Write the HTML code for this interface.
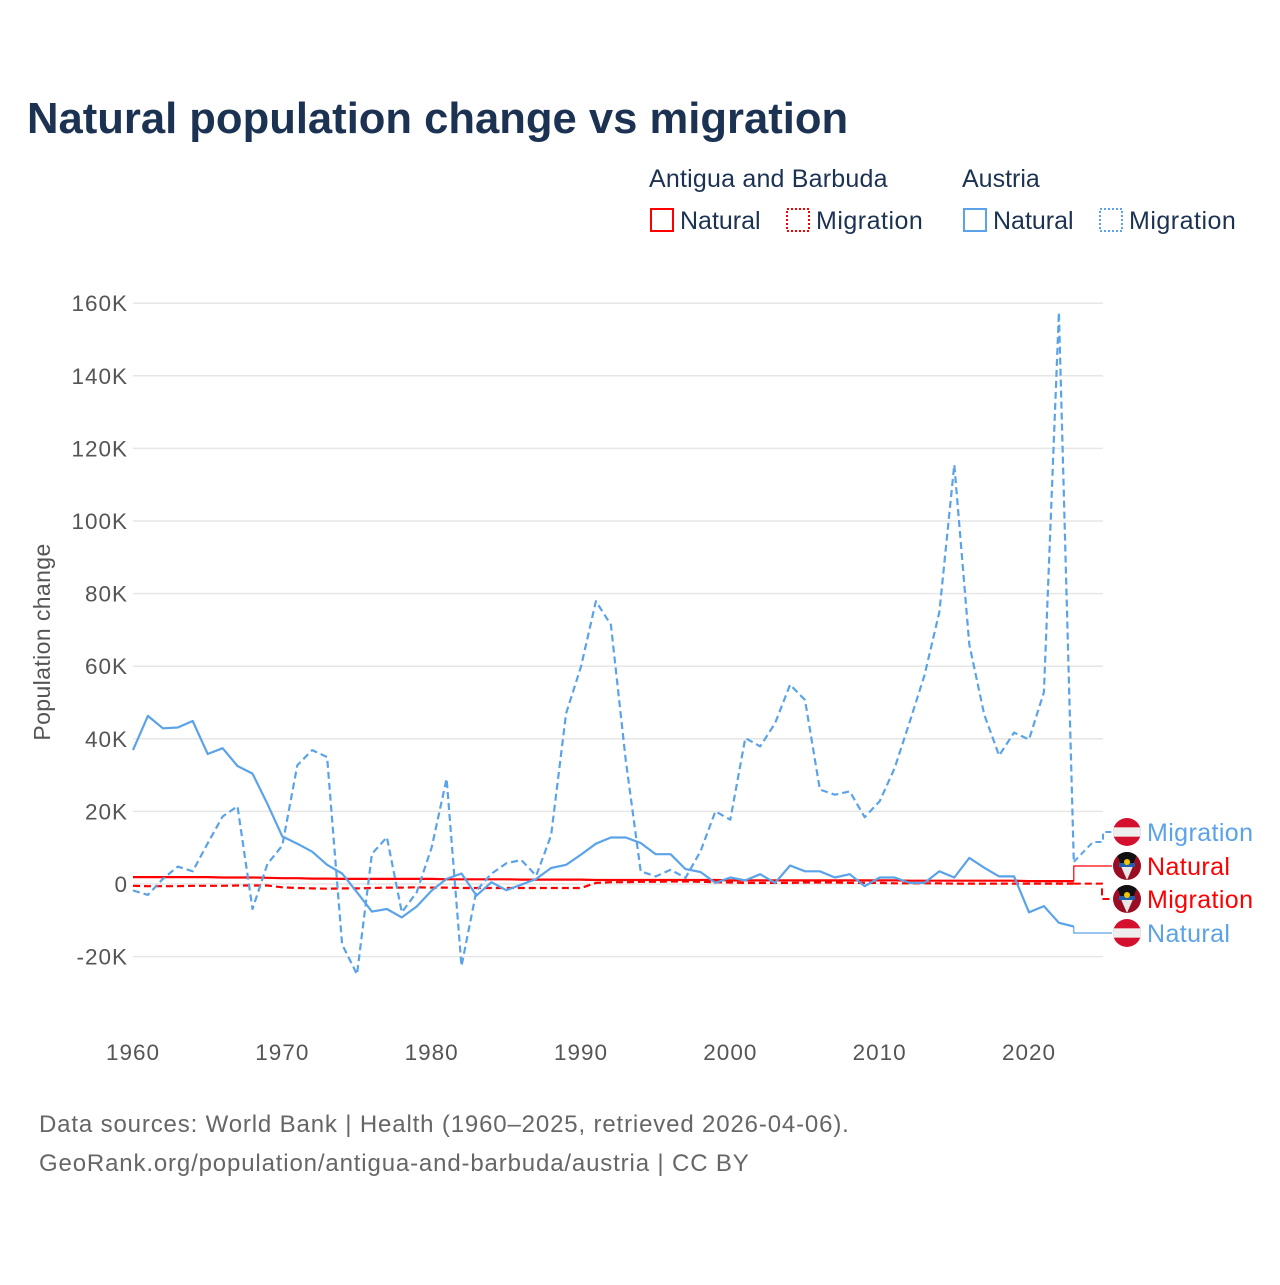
<!DOCTYPE html>
<html><head><meta charset="utf-8">
<style>
html,body{margin:0;padding:0;background:#fff;}
body{width:1280px;height:1280px;position:relative;font-family:"Liberation Sans",sans-serif;overflow:hidden;}
svg text{font-family:"Liberation Sans",sans-serif;}
</style></head>
<body>
<svg id="chart" width="1280" height="1280" viewBox="0 0 1280 1280" xmlns="http://www.w3.org/2000/svg">
<text x="27" y="133" font-size="43.6" font-weight="bold" fill="#1b3252">Natural population change vs migration</text>
<g font-size="25" fill="#1b3252">
<text x="649" y="187" letter-spacing="0.2">Antigua and Barbuda</text>
<text x="962" y="187">Austria</text>
<g><rect x="651" y="209" width="22" height="22" fill="none" stroke="#ff0000" stroke-width="2"/><text x="680" y="229">Natural</text></g>
<g><rect x="787" y="209" width="22" height="22" fill="none" stroke="#ff0000" stroke-width="2" stroke-dasharray="2,2"/><text x="816" y="229" letter-spacing="0.5">Migration</text></g>
<g><rect x="964" y="209" width="22" height="22" fill="none" stroke="#5ba3e8" stroke-width="2"/><text x="993" y="229">Natural</text></g>
<g><rect x="1100" y="209" width="22" height="22" fill="none" stroke="#5ba3e8" stroke-width="2" stroke-dasharray="2,2"/><text x="1129" y="229" letter-spacing="0.5">Migration</text></g>
</g>
<text transform="translate(50,642) rotate(-90)" text-anchor="middle" font-size="23" fill="#555" letter-spacing="0.4">Population change</text>
<g id="grid"></g><g id="yticks"></g><g id="xticks"></g><g id="series"></g><g id="labels"></g>
<text x="39" y="1132" font-size="24" fill="#666" letter-spacing="0.85">Data sources: World Bank | Health (1960–2025, retrieved 2026-04-06).</text>
<text x="39" y="1171" font-size="24" fill="#666" letter-spacing="0.85">GeoRank.org/population/antigua-and-barbuda/austria | CC BY</text>
</svg>
<script>
const years = [];
for (let y = 1960; y <= 2023; y++) years.push(y);
const yTicks = [-20000, 0, 20000, 40000, 60000, 80000, 100000, 120000, 140000, 160000];
const yTickLabels = ["-20K","0","20K","40K","60K","80K","100K","120K","140K","160K"];
const xTicks = [1960, 1970, 1980, 1990, 2000, 2010, 2020];
const austriaNatural = [36.9,46.3,42.9,43.1,44.9,35.8,37.4,32.5,30.4,22.1,13.1,11.1,8.9,5.3,2.9,-2.3,-7.6,-6.9,-9.2,-6.2,-1.8,1.4,2.9,-3.2,0.5,-1.7,-0.2,1.4,4.4,5.3,8.1,11.1,12.8,12.8,11.3,8.2,8.2,4.1,3.3,0.3,1.8,1.0,2.7,0.3,5.1,3.5,3.5,1.8,2.7,-0.6,1.8,1.8,0.3,0.3,3.5,1.8,7.2,4.5,2.1,2.1,-7.8,-6.1,-10.7,-11.7].map(v=>v*1000);
const austriaMigration = [-1.8,-3.0,1.4,4.8,3.5,11.2,18.6,21.4,-6.9,5.5,10.6,32.7,36.9,35.0,-16.6,-24.9,8.3,12.9,-7.8,-2.3,10.1,29.0,-22.6,-1.8,2.8,5.7,6.6,2.3,13.4,47.0,59.9,77.9,71.4,34.0,3.5,2.1,3.9,1.7,9.0,20.0,17.7,40.2,37.9,44.3,54.9,50.7,26.0,24.6,25.5,18.4,22.8,31.9,44.5,57.5,75.0,115.5,66.0,46.7,35.4,41.7,39.8,52.8,157.5,6.1].map(v=>v*1000);
const antiguaNatural = [1.9,1.9,1.9,1.9,1.9,1.9,1.8,1.8,1.8,1.7,1.6,1.6,1.5,1.5,1.4,1.4,1.4,1.4,1.4,1.4,1.4,1.3,1.3,1.3,1.3,1.3,1.2,1.2,1.2,1.2,1.2,1.1,1.1,1.1,1.1,1.1,1.1,1.1,1.1,1.1,1.0,1.0,1.0,1.0,1.0,1.0,1.0,1.0,1.0,1.0,1.0,1.0,0.9,0.9,0.9,0.9,0.9,0.9,0.9,0.9,0.8,0.8,0.8,0.8].map(v=>v*1000);
const antiguaMigration = [-0.5,-0.6,-0.6,-0.6,-0.5,-0.5,-0.5,-0.4,-0.4,-0.4,-0.9,-1.1,-1.2,-1.3,-1.2,-1.2,-1.1,-1.0,-1.0,-0.9,-1.0,-1.0,-1.1,-1.1,-1.1,-1.1,-1.1,-1.1,-1.1,-1.1,-1.1,0.3,0.5,0.5,0.6,0.6,0.7,0.7,0.6,0.5,0.4,0.3,0.3,0.3,0.3,0.4,0.4,0.4,0.3,0.3,0.3,0.2,0.2,0.2,0.2,0.1,0.1,0.1,0.1,0.1,0.1,0.1,0.1,0.1].map(v=>v*1000);

const X0 = 133, X1 = 1103, Y0 = 884, PXK = 3.63;
const xs = yr => X0 + (yr - 1960) * (1029 - 133) / 60;
const ys = v => Y0 - v / 1000 * PXK;
const NS = "http://www.w3.org/2000/svg";
function mk(tag, attrs, parent){const e=document.createElementNS(NS,tag);for(const k in attrs)e.setAttribute(k,attrs[k]);parent.appendChild(e);return e;}
const grid = document.getElementById('grid'), yt = document.getElementById('yticks'), xt = document.getElementById('xticks');
yTicks.forEach((t,i)=>{
  const l = mk('line',{x1:X0,x2:X1,y1:ys(t),y2:ys(t),stroke:'#e6e6e6','stroke-width':1.5},grid);
  
  
  const tx = mk('text',{x:128,y:ys(t)+8,'text-anchor':'end','font-size':22.5,fill:'#555','letter-spacing':1},yt);
  tx.textContent = yTickLabels[i];
  
  
});
xTicks.forEach(t=>{
  const tx = mk('text',{x:xs(t),y:1060,'text-anchor':'middle','font-size':22.5,fill:'#555','letter-spacing':1},xt);
  tx.textContent = t;
  
  
});
const ser = document.getElementById('series');
function line(vals,color,dash,name){
  const d = vals.map((v,i)=>(i?'L':'M')+xs(years[i]).toFixed(1)+','+ys(v).toFixed(1)).join('');
  const p = mk('path',{d:d,fill:'none',stroke:color,'stroke-width':2.2,'stroke-dasharray':dash,'stroke-linejoin':'round'},ser);
  
  
}
const BLUE='#5ba3e8', RED='#ff0000';
line(antiguaNatural,RED,'none','line-antigua-natural');
line(antiguaMigration,RED,'7,4','line-antigua-migration');
line(austriaNatural,BLUE,'none','line-austria-natural');
line(austriaMigration,BLUE,'7,4','line-austria-migration');

// end labels
const lab = document.getElementById('labels');
const last = years.length-1, ex = xs(years[last]);
const endLabels = [
  {txt:'Migration',color:BLUE,y:832,flag:'at',v:austriaMigration[last],dash:'6,4',bx:1103,diag:true},
  {txt:'Natural',color:RED,y:866,flag:'ag',v:antiguaNatural[last],dash:'none',bx:ex},
  {txt:'Migration',color:RED,y:899,flag:'ag',v:antiguaMigration[last],dash:'7,4',bx:1102},
  {txt:'Natural',color:BLUE,y:933,flag:'at',v:austriaNatural[last],dash:'none',bx:ex}
];
endLabels.forEach(L=>{
  const g = mk('g',{},lab);
  
  
  let d;
  if(L.diag) d=`M${ex},${ys(L.v)}L${L.bx-10},${L.y+10}L${L.bx},${L.y+10}L${L.bx},${L.y}L1112,${L.y}`;
  else d=`M${ex},${ys(L.v)}L${L.bx},${ys(L.v)}L${L.bx},${L.y}L1112,${L.y}`;
  mk('path',{d:d,fill:'none',stroke:L.color,'stroke-width':L.dash==='none'?1.2:2,'stroke-dasharray':L.dash},g);
  const cx=1127, cy=L.y, r=14;
  const cid='c'+Math.round(cy);
  const cp=mk('clipPath',{id:cid},g); mk('circle',{cx:cx,cy:cy,r:r},cp);
  const fg=mk('g',{'clip-path':`url(#${cid})`},g);
  if(L.flag==='at'){
    mk('rect',{x:cx-r,y:cy-r,width:2*r,height:2*r,fill:'#d5102f'},fg);
    mk('rect',{x:cx-r,y:cy-r/3,width:2*r,height:2*r/3,fill:'#eeeeee'},fg);
  } else {
    mk('rect',{x:cx-r,y:cy-r,width:2*r,height:2*r,fill:'#9b0d22'},fg);
    mk('polygon',{points:`${cx-11},${cy-r} ${cx+11},${cy-r} ${cx},${cy+r}`,fill:'#111'},fg);
    mk('polygon',{points:`${cx-7},${cy-2} ${cx+7},${cy-2} ${cx},${cy+r}`,fill:'#e8e8e8'},fg);
    mk('rect',{x:cx-8,y:cy-3,width:16,height:4,fill:'#1f5fb0'},fg);
    mk('circle',{cx:cx,cy:cy-4,r:3,fill:'#f5c400'},fg);
  }
  const t = mk('text',{x:1147,y:cy+9,'font-size':25,fill:L.color,'letter-spacing':0.4},g);
  t.textContent = L.txt;
});
</script>
</body></html>
